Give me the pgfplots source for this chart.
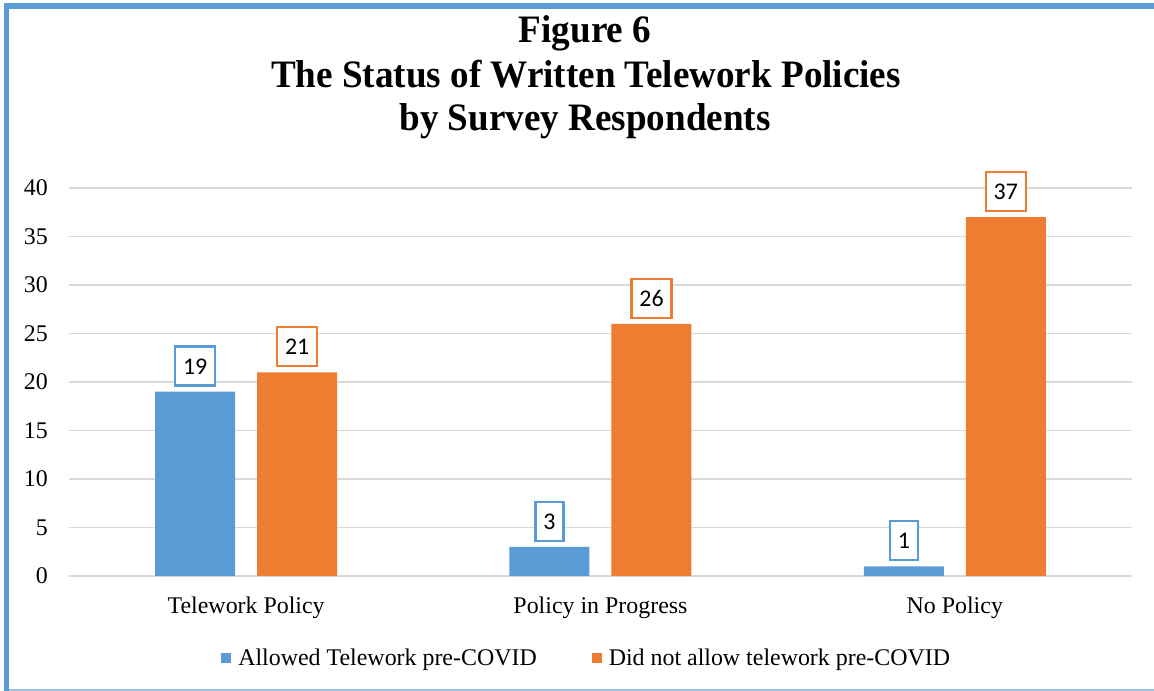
\documentclass[border=0pt]{standalone}
\usepackage{fontspec}
\setmainfont{Liberation Serif}
\newfontfamily\carlito{Carlito}
\usepackage{pgfplots}
\pgfplotsset{compat=1.18}
\definecolor{cblue}{HTML}{5B9BD5}
\definecolor{corange}{HTML}{ED7D31}
\definecolor{cgrid}{HTML}{D9D9D9}
\definecolor{cframelight}{HTML}{9DC3E6}
\begin{document}
\begin{tikzpicture}[x=1bp,y=1bp]
\useasboundingbox (0,0) rectangle (1154,-691);
% frame
\draw[cframelight, line width=1.5bp] (4,-690) -- (1154,-690);
\draw[cblue, line width=5.5bp] (6.5,-691) -- (6.5,-5.8) -- (1154,-5.8);
% title
\begin{scope}[every node/.style={font=\fontsize{39}{44}\selectfont\bfseries, anchor=base, inner sep=0pt, xscale=0.955}]
\node at (585,-43) {Figure 6};
\node at (586,-88) {The Status of Written Telework Policies};
\node at (585,-131) {by Survey Respondents};
\end{scope}
\begin{axis}[
  at={(69bp,-576bp)}, anchor=south west,
  scale only axis, width=1063bp, height=388bp,
  xmin=-0.5, xmax=2.5, ymin=0, ymax=40,
  ybar=22bp, bar width=80bp,
  axis line style={draw=none},
  major tick length=0pt,
  ymajorgrids, grid style={cgrid, line width=1.4bp},
  ytick={0,5,...,40},
  xtick={0,1,2},
  xticklabels={Telework Policy, Policy in Progress, No Policy},
  /pgf/number format/assume math mode=true,
  yticklabel style={font=\fontsize{24}{28}\selectfont, anchor=east, inner sep=0pt, xshift=-21bp},
  xticklabel style={font=\fontsize{24}{28}\selectfont, anchor=north, inner sep=0pt, yshift=-21bp},
  nodes near coords,
  every node near coord/.append style={font=\carlito\fontsize{24}{28}\selectfont, text=black, fill=white, line width=2.3bp, inner xsep=7.8bp, inner ysep=11.5bp, text height=16bp, text depth=0bp, anchor=south, yshift=5bp},
  legend columns=2,
  legend style={at={(0.4875,-0.2113)}, anchor=center, draw=none, fill=none, inner sep=0pt,
     font=\fontsize{24}{28}\selectfont,
     /tikz/every odd column/.append style={column sep=4bp},
     /tikz/every even column/.append style={column sep=52bp},
     nodes={inner sep=3bp, anchor=west}},
  legend image code/.code={\fill[#1] (0bp,-5bp) rectangle (10bp,5bp);},
]
\addplot[fill=cblue, draw=none, every node near coord/.append style={draw=cblue}] coordinates {(0,19) (1,3) (2,1)};
\addplot[fill=corange, draw=none, every node near coord/.append style={draw=corange}] coordinates {(0,21) (1,26) (2,37)};
\legend{Allowed Telework pre-COVID, Did not allow telework pre-COVID}
\end{axis}
\end{tikzpicture}
\end{document}
